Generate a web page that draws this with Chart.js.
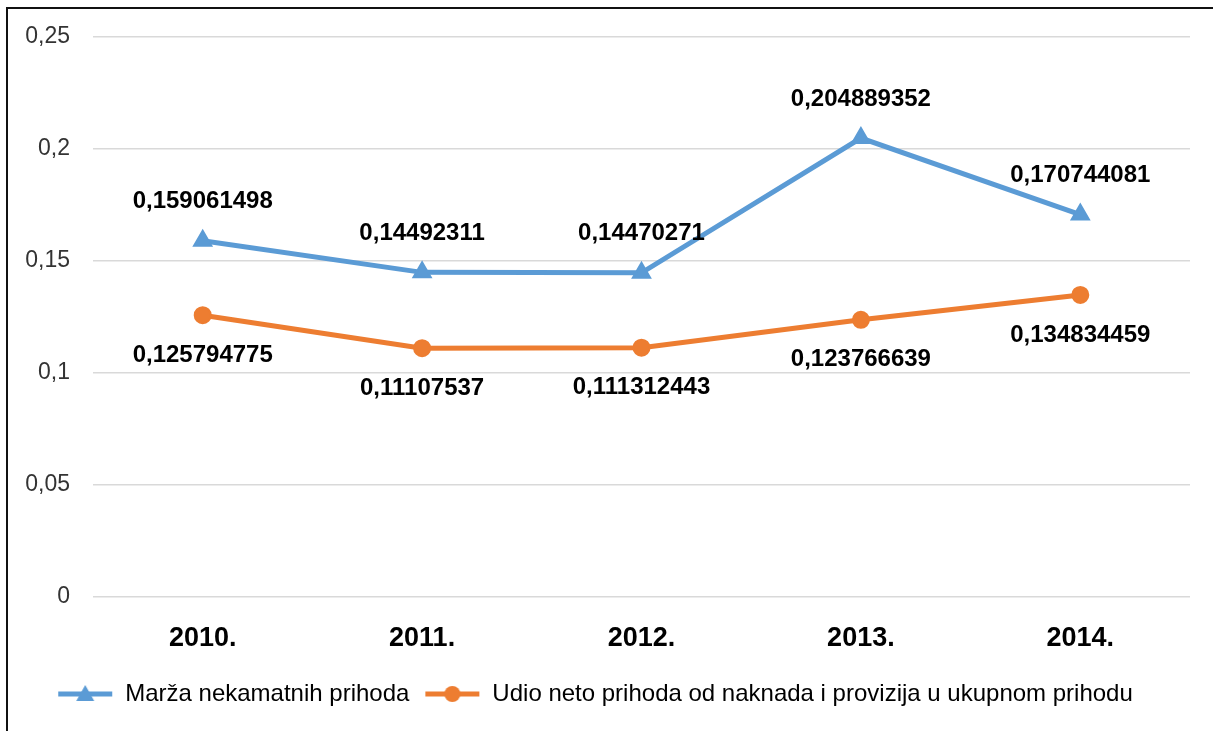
<!DOCTYPE html>
<html>
<head>
<meta charset="utf-8">
<script src="https://cdn.jsdelivr.net/npm/chart.js@4.4.1/dist/chart.umd.min.js"></script>
<style>
  html, body { margin: 0; padding: 0; background: #fff; }
  #wrap { position: relative; width: 1213px; height: 731px; }
  #frame { position: absolute; left: 6px; top: 7px; right: 0; bottom: 0;
           border-top: 2px solid #111; border-left: 2px solid #111; pointer-events: none; }
  canvas { position: absolute; left: 0; top: 0; }
</style>
</head>
<body>
<div id="wrap">
  <canvas id="chart" width="1213" height="731"></canvas>
  <div id="frame"></div>
</div>
<script>
const years = ["2010.", "2011.", "2012.", "2013.", "2014."];
const marza = [0.159061498, 0.14492311, 0.14470271, 0.204889352, 0.170744081];
const udio = [0.125794775, 0.11107537, 0.111312443, 0.123766639, 0.134834459];
const yTickLabels = ["0", "0,05", "0,1", "0,15", "0,2", "0,25"];

const blue = "#5B9BD5";
const orange = "#ED7D31";
const FONT = "'Liberation Sans', Arial, sans-serif";

// legend swatch: short line with the marker in the middle
function swatch(color, shape) {
  const c = document.createElement("canvas");
  c.width = 56; c.height = 22;
  const g = c.getContext("2d");
  g.strokeStyle = color; g.fillStyle = color; g.lineWidth = 5;
  g.beginPath(); g.moveTo(1, 11); g.lineTo(55, 11); g.stroke();
  g.beginPath();
  if (shape === "triangle") {
    g.moveTo(28, 2); g.lineTo(37, 18); g.lineTo(19, 18); g.closePath();
  } else {
    g.arc(28, 11, 8, 0, Math.PI * 2);
  }
  g.fill();
  return c;
}
const swatches = [swatch(blue, "triangle"), swatch(orange, "circle")];

const fmt = v => String(v).replace(".", ",");

const valueLabels = {
  id: "valueLabels",
  afterDatasetsDraw(chart) {
    const ctx = chart.ctx;
    ctx.save();
    ctx.font = "bold 24px " + FONT;
    ctx.fillStyle = "#000";
    ctx.textAlign = "center";
    ctx.textBaseline = "middle";
    chart.data.datasets.forEach((ds, i) => {
      const meta = chart.getDatasetMeta(i);
      const off = i === 0 ? -39 : 40;
      meta.data.forEach((pt, j) => {
        ctx.fillText(fmt(ds.data[j]), pt.x, pt.y + off);
      });
    });
    ctx.restore();
  }
};

new Chart(document.getElementById("chart").getContext("2d"), {
  type: "line",
  data: {
    labels: years,
    datasets: [
      {
        label: "Marža nekamatnih prihoda",
        data: marza,
        borderColor: blue,
        backgroundColor: blue,
        borderWidth: 5,
        pointStyle: "triangle",
        pointRadius: 10,
        pointBorderWidth: 2,
        tension: 0,
      },
      {
        label: "Udio neto prihoda od naknada i provizija u ukupnom prihodu",
        data: udio,
        borderColor: orange,
        backgroundColor: orange,
        borderWidth: 5,
        pointStyle: "circle",
        pointRadius: 8,
        pointBorderWidth: 2,
        tension: 0,
      },
    ],
  },
  options: {
    responsive: false,
    animation: false,
    layout: { padding: { top: 37, right: 23, left: 0, bottom: 15 } },
    scales: {
      x: {
        offset: true,
        grid: { display: false, drawTicks: false, offset: true },
        border: { display: false },
        ticks: { padding: 25, color: "#000", font: { family: FONT, size: 27, weight: "bold" } },
        afterFit(s) { s.height = 70; },
      },
      y: {
        min: 0,
        max: 0.25,
        grid: { color: "#d9d9d9", lineWidth: 1.5, drawTicks: false },
        border: { display: false },
        ticks: {
          stepSize: 0.05,
          padding: 23,
          color: "#333",
          font: { family: FONT, size: 23 },
          callback: (v, i) => yTickLabels[i],
        },
        afterFit(s) { s.width = 93; },
      },
    },
    plugins: {
      tooltip: { enabled: false },
      legend: {
        position: "bottom",
        labels: {
          usePointStyle: true,
          pointStyleWidth: 56,
          padding: 15,
          color: "#222",
          font: { family: FONT, size: 24 },
          generateLabels(chart) {
            return chart.data.datasets.map((ds, i) => ({
              text: ds.label,
              pointStyle: swatches[i],
              fillStyle: ds.borderColor,
              strokeStyle: ds.borderColor,
              lineWidth: 0,
              datasetIndex: i,
            }));
          },
        },
      },
    },
  },
  plugins: [valueLabels],
});
</script>
</body>
</html>
